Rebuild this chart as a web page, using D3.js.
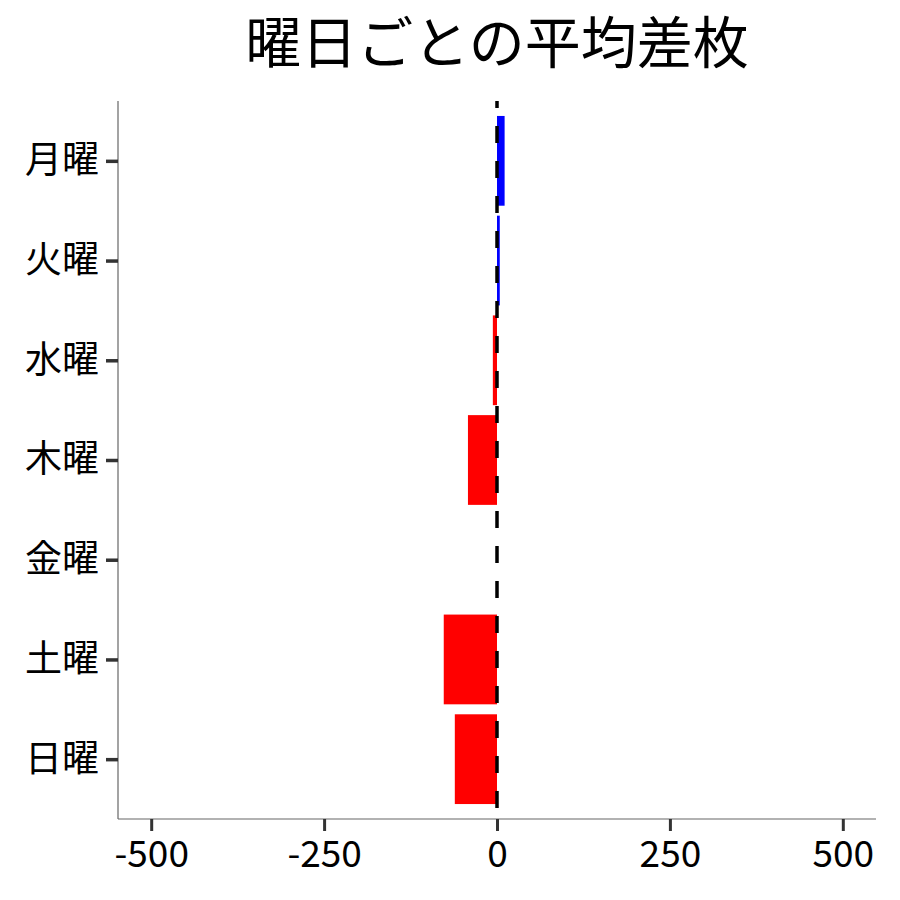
<!DOCTYPE html>
<html><head><meta charset="utf-8">
<script src="https://cdn.jsdelivr.net/npm/d3@7"></script>
<style>body{margin:0;background:#fff;}svg{display:block;font-family:"Noto Sans CJK JP","Noto Sans",sans-serif;}</style>
</head><body>
<svg id="c" width="900" height="900"></svg>
<script>
const days = ["月曜","火曜","水曜","木曜","金曜","土曜","日曜"];
const values = [11, 4, -6, -42, 0, -77, -61];
const xTicks = [-500, -250, 0, 250, 500];
const xTickLabels = ["-500", "-250", "0", "250", "500"];
const title = "曜日ごとの平均差枚";

const svg = d3.select("#c");
const L = 118, R = 876, T = 101, B = 819;
const x = d3.scaleLinear().domain([-548, 548]).range([L, R]);
const y = d3.scalePoint().domain(days).range([T, B]).padding(0.6);
const bh = y.step() * 0.9;

svg.append("text").attr("x", (L + R) / 2).attr("y", 63).attr("text-anchor", "middle")
  .attr("font-size", 56).attr("fill", "#000").text(title);

svg.selectAll("rect.bar").data(days).enter().append("rect")
  .attr("x", (d, i) => x(Math.min(0, values[i])))
  .attr("width", (d, i) => Math.abs(x(values[i]) - x(0)))
  .attr("y", d => y(d) - bh / 2).attr("height", bh)
  .attr("fill", (d, i) => values[i] >= 0 ? "#0000ff" : "#ff0000");

svg.append("line").attr("x1", x(0)).attr("x2", x(0)).attr("y1", T).attr("y2", B)
  .attr("stroke", "#000").attr("stroke-width", 3.5).attr("stroke-dasharray", "17,18")
  .attr("stroke-dashoffset", 10);

const xa = svg.append("g").attr("transform", `translate(0,${B})`)
  .call(d3.axisBottom(x).tickValues(xTicks).tickSize(12).tickPadding(10)
    .tickFormat((d, i) => xTickLabels[i]));
xa.select(".domain").attr("stroke", "#666").attr("stroke-width", 1.2).attr("d", `M${L},0H${R}`);
xa.selectAll(".tick line").attr("stroke", "#333").attr("stroke-width", 3);
xa.selectAll(".tick text").attr("font-size", 37).attr("fill", "#000").attr("font-family", "Noto Sans CJK JP");

const ya = svg.append("g").attr("transform", `translate(${L},0)`)
  .call(d3.axisLeft(y).tickSize(12).tickPadding(7));
ya.select(".domain").attr("stroke", "#666").attr("stroke-width", 1.2).attr("d", `M0,${T}V${B}`);
ya.selectAll(".tick line").attr("stroke", "#333").attr("stroke-width", 3.5);
ya.selectAll(".tick text").attr("font-size", 37).attr("fill", "#000").attr("font-family", "Noto Sans CJK JP");
</script>
</body></html>
